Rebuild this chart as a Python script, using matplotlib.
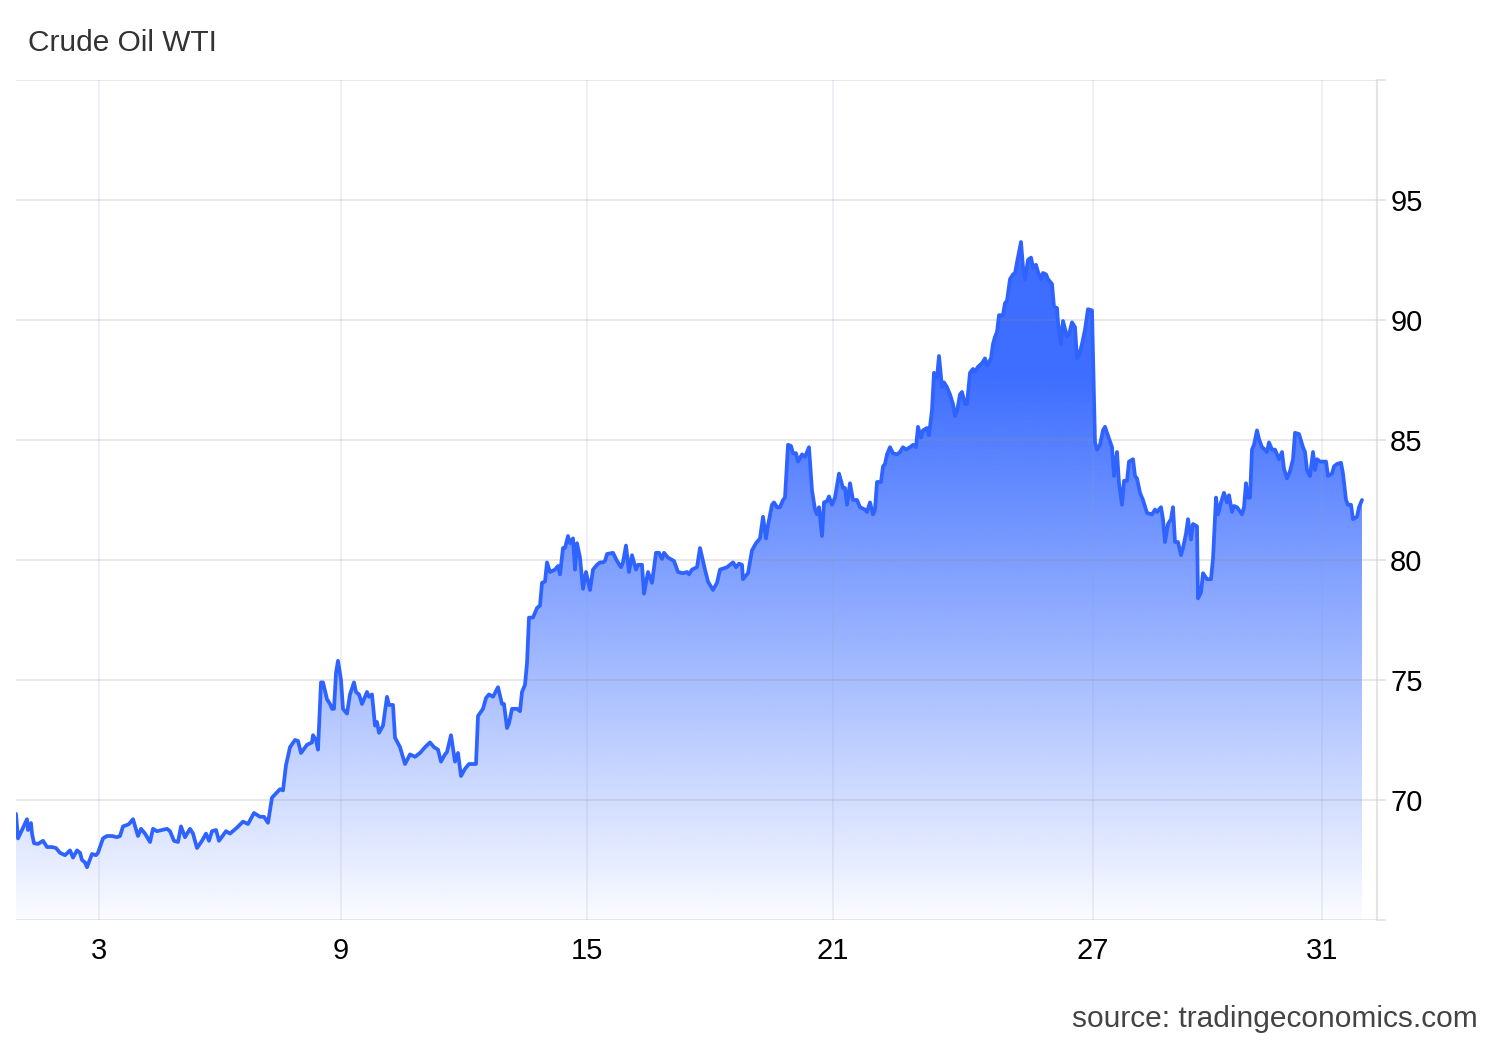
import numpy as np
import matplotlib
matplotlib.use("Agg")
import matplotlib.pyplot as plt
from matplotlib.patches import Polygon
from matplotlib.colors import to_rgb

plt.rcParams['font.family'] = ['Liberation Sans', 'DejaVu Sans']

title = "Crude Oil WTI"
source = "source: tradingeconomics.com"

day_labels = ['3', '9', '15', '21', '27', '31']
day_pos = [83, 325, 571, 817, 1077, 1306]
y_ticks = [65, 70, 75, 80, 85, 90, 95, 100]
y_labels = ['', '70', '75', '80', '85', '90', '95', '']

# time steps (session time index) and WTI price
t = [0, 2, 6, 11, 12, 15, 16, 18, 22, 27, 31, 36, 40, 44, 49, 54, 57, 61, 64, 66, 69, 71,
     76, 80, 82, 87, 91, 96, 101, 104, 107, 111, 113, 117, 122, 125, 129, 134, 137, 141,
     151, 154, 158, 162, 165, 169, 174, 177, 181, 186, 190, 193, 196, 200, 203, 210, 214,
     221, 227, 232, 238, 244, 248, 252,
     256, 264, 267, 270, 274, 279, 282, 285, 291, 296, 297, 300, 302, 305, 307, 311, 314,
     316, 318, 320, 322, 325, 327, 331, 334, 338, 340, 343, 346, 351, 353, 356, 359, 361,
     363, 367, 371, 373, 377, 379, 384, 389, 394, 399, 404, 409, 414, 418, 422, 425, 429,
     431, 435, 439, 442, 445, 449, 453, 460, 462, 467, 470, 473, 477, 482,
     486, 488, 491, 493, 496, 501, 504, 506, 509, 511, 513, 517, 521, 524, 526, 529, 531,
     534, 539, 542, 544, 547, 549, 552, 554, 557, 559, 561, 564, 567, 570, 574, 577, 581,
     584, 587, 589, 591, 597, 601, 605, 607, 610, 613, 616, 620, 622, 626, 628, 632, 636,
     640, 643, 646, 648, 652, 658, 662, 667, 671, 673, 676, 681, 684, 689, 692, 697, 701,
     704, 711, 717, 720, 723, 726, 727, 732, 736, 740, 744, 747, 750, 752, 756, 758, 761,
     764, 767, 769, 772, 775, 777, 780, 782, 786, 789, 793, 796, 799, 801, 803, 806, 808,
     811, 813, 816, 819, 823, 827, 829, 831, 834, 837, 841, 844, 849, 851, 854, 857, 859,
     861, 865, 867, 869, 871, 874, 877, 881, 884, 887, 890, 894, 897, 900, 902, 905, 907,
     911, 913, 916, 918, 921, 923, 926, 928, 931, 934, 937, 939, 941, 944, 946, 949, 951,
     954, 957, 959, 962, 966, 969, 971, 975, 977, 979, 981, 983, 987, 989, 991, 994, 997,
     999, 1001, 1005, 1007, 1009, 1012, 1015, 1017, 1020, 1022, 1025, 1027, 1030, 1032,
     1036, 1038, 1041, 1042, 1045, 1047, 1051, 1053, 1056, 1059, 1061, 1063, 1066, 1069,
     1072, 1076, 1079, 1081, 1084, 1087, 1089, 1091, 1096, 1098, 1101, 1103, 1106, 1108,
     1111, 1113, 1117, 1119, 1121, 1124, 1127, 1131, 1136, 1139, 1141, 1145, 1147, 1149,
     1152, 1155, 1157, 1159, 1162, 1165, 1167, 1170, 1172, 1175, 1177, 1181, 1182, 1185,
     1187, 1191, 1195, 1197, 1200, 1202, 1205, 1208, 1211, 1213, 1216, 1218, 1221, 1226,
     1228, 1230, 1232, 1234, 1236, 1238, 1241, 1243, 1246, 1249, 1251, 1253, 1256, 1259,
     1261, 1263, 1266, 1268, 1271, 1274, 1277, 1279, 1283, 1287, 1289, 1291, 1294, 1297,
     1299, 1301, 1304, 1307, 1310, 1312, 1316, 1318, 1321, 1325, 1327, 1330, 1332, 1335,
     1337, 1341, 1343, 1346]
price = [69.42, 68.4, 68.75, 69.2, 68.75, 69.04, 68.6, 68.2, 68.17, 68.3, 68.04, 68.04,
         68.0, 67.8, 67.7, 67.9, 67.6, 67.9, 67.8, 67.5, 67.4, 67.2, 67.75, 67.7, 67.8,
         68.4, 68.5, 68.5, 68.45, 68.5, 68.9, 68.96, 69.0, 69.2, 68.5, 68.8, 68.6, 68.25,
         68.8, 68.7, 68.8, 68.7, 68.3, 68.25, 68.9, 68.45, 68.8, 68.6, 68.0, 68.3, 68.6,
         68.3, 68.7, 68.75, 68.3, 68.7, 68.6, 68.85, 69.1, 69.0, 69.46, 69.3, 69.3, 69.05,
         70.1, 70.45, 70.4, 71.45, 72.2, 72.5, 72.46, 71.96, 72.3, 72.4, 72.7, 72.5, 72.1,
         74.9, 74.9, 74.2, 74.0, 73.8, 73.8, 75.3, 75.8, 75.0, 73.8, 73.6, 74.4, 74.9, 74.5,
         74.4, 74.0, 74.5, 74.3, 74.4, 73.1, 73.25, 72.8, 73.1, 74.3, 73.96, 73.96, 72.6,
         72.2, 71.5, 71.9, 71.8, 71.96, 72.2, 72.4, 72.2, 72.1, 71.6, 71.9, 72.0, 72.7,
         71.6, 71.96, 71.0, 71.3, 71.5, 71.5, 73.5, 73.8, 74.25, 74.4, 74.3, 74.7,
         74.0, 74.0, 73.0, 73.2, 73.8, 73.8, 73.7, 74.5, 74.8, 75.7, 77.6, 77.6, 78.0,
         78.1, 79.05, 79.1, 79.9, 79.5, 79.6, 79.75, 79.4, 80.5, 80.5, 81.0, 80.7, 80.9,
         79.6, 80.7, 80.1, 78.8, 79.5, 78.75, 79.6, 79.8, 79.9, 79.9, 79.96, 80.25, 80.3,
         79.96, 79.7, 79.9, 80.6, 79.5, 80.2, 79.6, 79.8, 79.8, 78.6, 79.5, 79.05, 80.3,
         80.3, 80.04, 80.3, 80.1, 79.96, 79.5, 79.45, 79.5, 79.4, 79.6, 79.7, 80.5, 79.6,
         79.1, 78.75, 79.05, 79.6, 79.7, 79.9, 79.7, 79.85, 79.8, 79.2, 79.45, 80.4, 80.7,
         80.9, 81.8, 80.9, 81.45, 82.3, 82.4, 82.2, 82.2, 82.5, 82.6, 84.8, 84.75, 84.45,
         84.45, 84.1, 84.4, 84.3, 84.7, 82.9, 82.1, 81.9, 82.2, 81.0, 82.4, 82.45, 82.65,
         82.3, 82.6, 83.6, 83.0, 83.0, 82.3, 83.2, 82.5, 82.5, 82.2, 82.1, 82.0, 82.4,
         81.9, 82.1, 83.25, 83.25, 83.9, 84.0, 84.4, 84.7, 84.45, 84.4, 84.5, 84.7, 84.6,
         84.7, 84.8, 84.7, 85.55, 85.1, 85.4, 85.5, 85.2, 86.25, 87.8, 87.6, 88.5, 87.2,
         87.4, 87.2, 86.9, 86.5, 86.0, 86.2, 86.9, 87.0, 86.5, 86.5, 87.8, 87.96, 87.85,
         88.05, 88.2, 88.4, 88.1, 88.4, 89.0, 89.3, 89.5, 90.2, 90.2, 90.7, 90.8, 91.7,
         91.9, 91.95, 92.4, 93.25, 92.2, 91.7, 92.5, 92.6, 92.2, 92.3, 92.0, 91.7, 91.96,
         91.9, 91.7, 91.5, 90.55, 90.5, 89.9, 89.0, 89.96, 89.3, 89.4, 89.9, 89.7, 88.4,
         88.5, 89.0, 89.6, 90.45, 90.4, 84.9, 84.6, 84.8, 85.4, 85.55, 85.3, 84.7, 83.5,
         84.5, 83.2, 82.3, 83.3, 83.3, 84.1, 84.2, 83.5, 83.4, 82.8, 82.5, 81.96, 81.9,
         82.1, 82.0, 82.2, 81.7, 80.75, 81.5, 81.7, 82.2, 80.75, 80.75, 80.2, 80.5, 81.1,
         81.7, 80.85, 81.5, 81.4, 78.4, 78.65, 79.45, 79.2, 79.2, 80.05, 82.6, 81.9, 82.4,
         82.8, 82.4, 82.7, 82.0, 82.25, 82.2, 81.9, 82.2, 83.2, 82.6, 82.6, 84.6, 84.8,
         85.4, 85.04, 84.7, 84.6, 84.5, 84.9, 84.6, 84.6, 84.4, 84.2, 84.5, 83.8, 83.4,
         83.7, 84.2, 85.3, 85.25, 84.7, 84.5, 83.75, 83.5, 84.5, 83.75, 84.2, 84.1, 84.1,
         84.1, 83.5, 83.6, 83.9, 84.0, 84.05, 83.6, 82.5, 82.3, 82.3, 81.7, 81.8, 82.2,
         82.5]

line_color = '#2e63ff'
fill_color = '#3366ff'

W, H = 1500, 1040
fig = plt.figure(figsize=(W / 100, H / 100), dpi=100)
fig.patch.set_facecolor('white')
ax = fig.add_axes([16 / W, 1 - 920 / H, (1377 - 16) / W, (920 - 80) / H])
ax.set_facecolor('white')

ymin, ymax = 65, 100
# vertical gradient fill under the line
n = 500
vals = np.linspace(ymin, ymax, n)
alpha = np.clip(0.02 + 0.041 * (vals - ymin), 0, 0.95)
rgba = np.zeros((n, 1, 4))
rgba[..., :3] = to_rgb(fill_color)
rgba[..., 0, 3] = alpha
im = ax.imshow(rgba, extent=[t[0], t[-1], ymin, ymax], origin='lower',
               aspect='auto', interpolation='bilinear', zorder=1)
verts = [(t[0], ymin)] + list(zip(t, price)) + [(t[-1], ymin)]
poly = Polygon(verts, closed=True, facecolor='none', edgecolor='none')
ax.add_patch(poly)
im.set_clip_path(poly)

ax.plot(t, price, color=line_color, lw=2.7, zorder=4, solid_joinstyle='round',
        solid_capstyle='round')

ax.set_xlim(0, 1361)
ax.set_ylim(ymin, ymax)

# horizontal grid
for yv in y_ticks:
    ax.axhline(yv, color=(0.55, 0.55, 0.55, 0.22), lw=1.3, zorder=3)
# vertical grid
for xv in day_pos:
    ax.axvline(xv, color=(0.55, 0.62, 0.76, 0.16), lw=1.3, zorder=3)

ax.set_xticks(day_pos)
ax.set_xticklabels(day_labels)
ax.set_yticks(y_ticks)
ax.set_yticklabels(y_labels)
ax.yaxis.tick_right()
ax.tick_params(axis='x', length=0, pad=12.5, labelsize=21, labelcolor='#000000')
ax.tick_params(axis='y', length=6.5, width=1.3, color='#e4e4e4', pad=3,
               labelsize=21, labelcolor='#000000')
for side in ['left', 'top', 'bottom']:
    ax.spines[side].set_visible(False)
ax.spines['right'].set_color('#e4e4e4')
ax.spines['right'].set_linewidth(1.5)

fig.text(28 / W, 1 - 51 / H, title, fontsize=21.5, color='#333333',
         ha='left', va='baseline')
fig.text(1478 / W, 1 - 1027 / H, source, fontsize=21.5, color='#444444',
         ha='right', va='baseline')

fig.savefig('out.png', dpi=100, facecolor='white')
